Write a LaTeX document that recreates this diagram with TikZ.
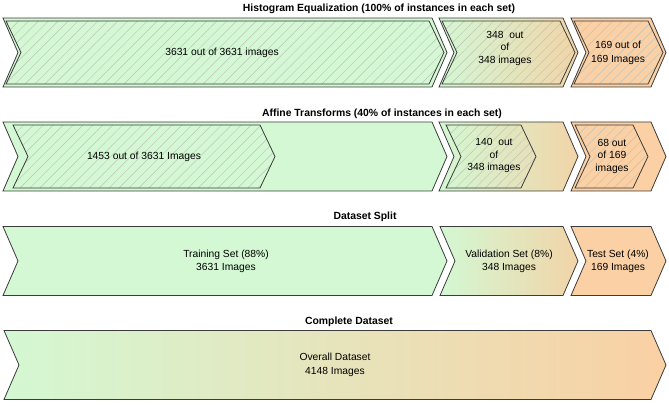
\documentclass[tikz,border=0pt]{standalone}
\usepackage{fontspec}
\setmainfont{Liberation Sans}
\usetikzlibrary{patterns.meta}
\definecolor{cgreen}{RGB}{211,248,211}
\definecolor{cpeach}{RGB}{250,208,164}
\definecolor{cvalr}{RGB}{242,212,168}
\definecolor{cline}{RGB}{60,60,60}
\definecolor{chatch}{RGB}{188,196,188}
\newcommand\chd{15}
\newcommand\chev[5][]{\path[#1] (#2,#4) -- ({#3-\chd},#4) -- (#3,{(#4+#5)/2}) -- ({#3-\chd},#5) -- (#2,#5) -- ({#2+\chd},{(#4+#5)/2}) -- cycle;}
\tikzset{
  outl/.style={draw=cline,line width=0.8pt,line join=miter},
  hatch/.style={pattern={Lines[angle=45,distance=7pt,line width=0.45pt]},pattern color=chatch},
  gfill/.style={fill=cgreen},
  pfill/.style={fill=cpeach},
  vfill/.style={left color=cgreen,right color=cvalr},
  afill/.style={left color=cgreen,right color=cpeach},
  txt/.style={inner sep=0pt,align=center,font=\fontsize{10.3}{12.5}\selectfont},
  txt2/.style={inner sep=0pt,align=center,font=\fontsize{10.3}{13.5}\selectfont},
  ttl/.style={inner sep=0pt,font=\bfseries\fontsize{10.4}{12}\selectfont}
}
\begin{document}
\begin{tikzpicture}[x=1pt,y=-1pt]
\useasboundingbox (0,0) rectangle (669,406);
% ---- Row 1: Histogram Equalization
\chev[gfill,outl]{3}{447}{18}{87}
\chev[hatch]{6}{444}{21}{84}
\chev[outl]{6}{444}{21}{84}
\chev[vfill,outl]{439}{578}{18}{87}
\chev[hatch]{442}{575}{21}{84}
\chev[outl]{442}{575}{21}{84}
\chev[pfill,outl]{571}{666}{18}{87}
\chev[hatch]{574}{663}{21}{84}
\chev[outl]{574}{663}{21}{84}
\node[ttl] (t1) at (379,9) {Histogram Equalization (100\% of instances in each set)};
\node[txt] (r1a) at (222,52.5) {3631 out of 3631 images};
\node[txt] (r1b) at (505,48) {348\ \ out\\of\\348 images};
\node[txt2] (r1c) at (618,53) {169 out of\\169 Images};
% ---- Row 2: Affine Transforms
\chev[gfill,outl]{3}{447}{122}{191}
\chev[hatch]{13}{275}{125}{188}
\chev[outl]{13}{275}{125}{188}
\chev[vfill,outl]{439}{578}{122}{191}
\chev[hatch]{446}{536}{125}{188}
\chev[outl]{446}{536}{125}{188}
\chev[pfill,outl]{571}{666}{122}{191}
\chev[hatch]{575}{648}{125}{188}
\chev[outl]{575}{648}{125}{188}
\node[ttl] (t2) at (382,114) {Affine Transforms (40\% of instances in each set)};
\node[txt] (r2a) at (144,156.5) {1453 out of 3631 Images};
\node[txt] (r2b) at (494,155.5) {140\ \ out\\of\\348 images};
\node[txt] (r2c) at (612,156) {68 out\\of 169\\images};
% ---- Row 3: Dataset Split
\chev[gfill,outl]{3}{447}{226.5}{295.5}
\chev[vfill,outl]{440}{578}{226.5}{295.5}
\chev[pfill,outl]{571}{666}{226.5}{295.5}
\node[ttl] (t3) at (365,217) {Dataset Split};
\node[txt2] (r3a) at (226,261.5) {Training Set (88\%)\\3631 Images};
\node[txt2] (r3b) at (509,261.5) {Validation Set (8\%)\\348 Images};
\node[txt2] (r3c) at (618,261.5) {Test Set (4\%)\\169 Images};
% ---- Row 4: Complete Dataset
\chev[afill,outl]{4}{666}{330.5}{399.5}
\node[ttl] (t4) at (349,321.5) {Complete Dataset};
\node[txt2] (r4) at (335,365) {Overall Dataset\\4148 Images};
\end{tikzpicture}
\end{document}
